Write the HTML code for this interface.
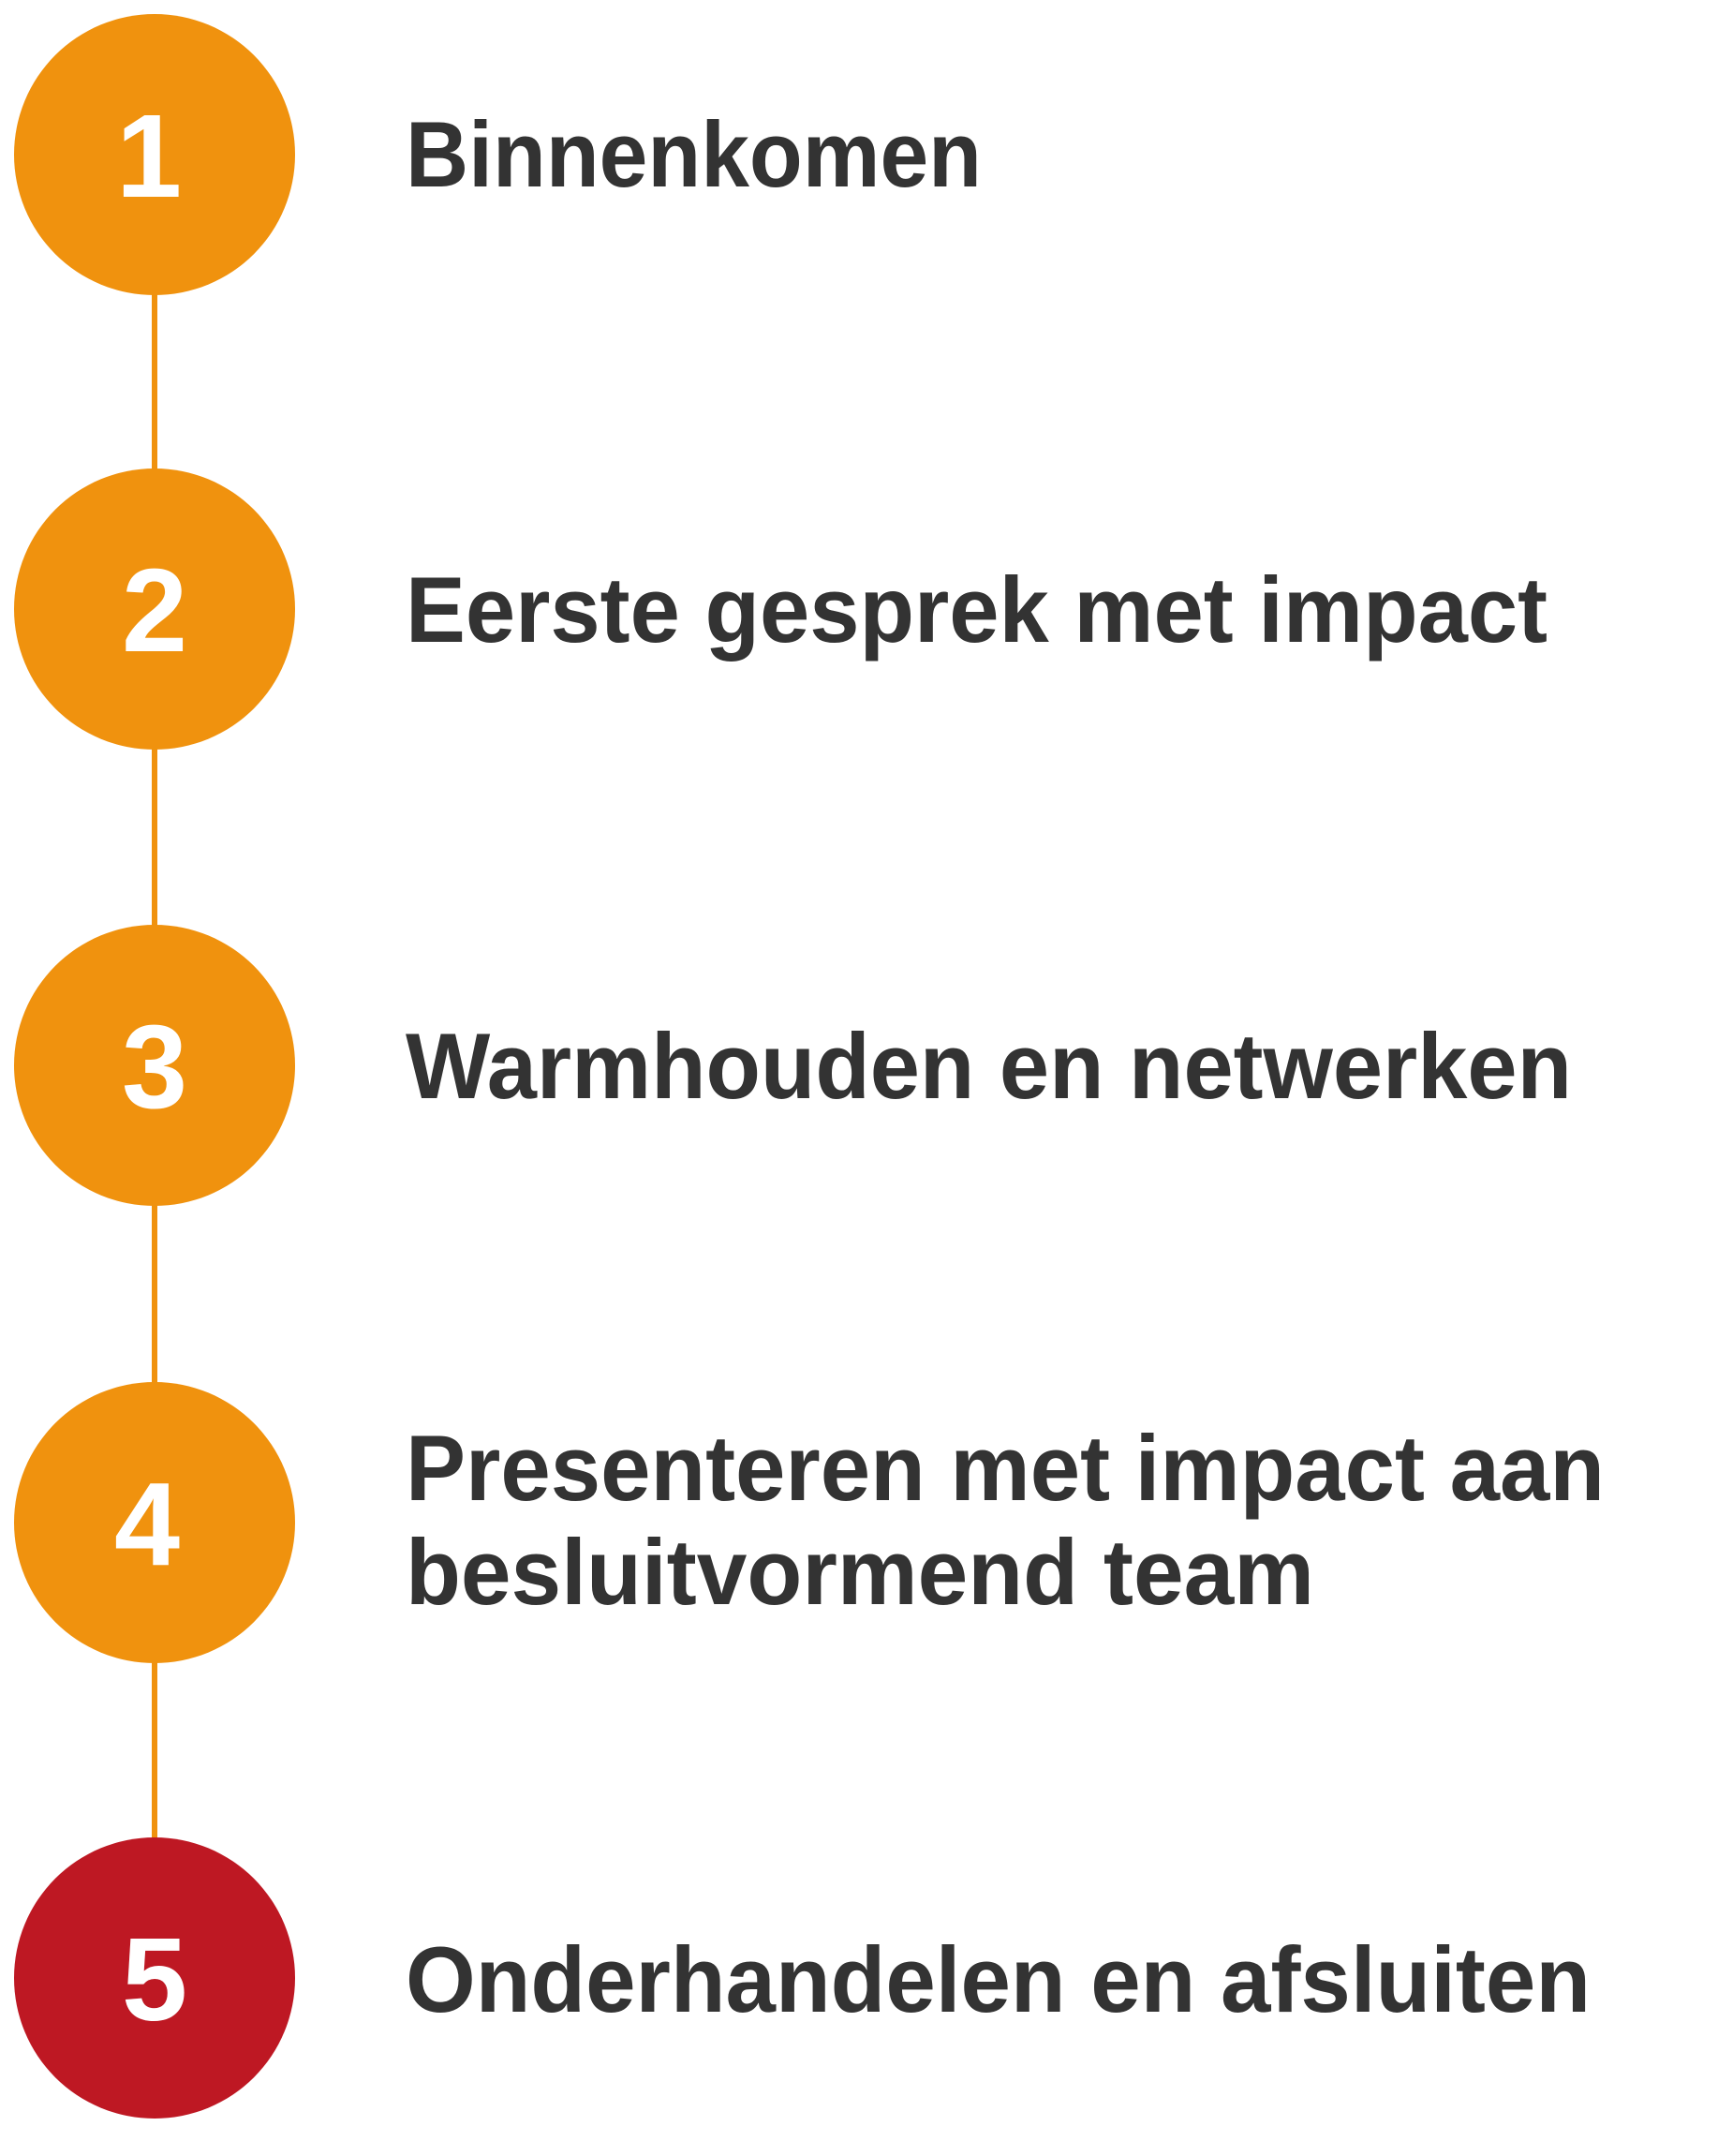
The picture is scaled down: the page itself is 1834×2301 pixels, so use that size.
<!DOCTYPE html>
<html><head><meta charset="utf-8"><style>html,body{margin:0;padding:0;background:#fff}</style></head>
<body>
<svg width="1834" height="2296" viewBox="0 0 1834 2296" xmlns="http://www.w3.org/2000/svg">
<line x1="165" y1="165" x2="165" y2="2111" stroke="#F0920E" stroke-width="6"/>
<g fill="#F0920E">
<circle cx="165" cy="165" r="150"/>
<circle cx="165" cy="650" r="150"/>
<circle cx="165" cy="1137" r="150"/>
<circle cx="165" cy="1625" r="150"/>
</g>
<circle cx="165" cy="2111" r="150" fill="#BE1823"/>
<g font-family="Liberation Sans, sans-serif" font-weight="bold" font-size="126" fill="#fff" text-anchor="middle">
<text x="159" y="210">1</text>
<text x="165" y="695">2</text>
<text x="165" y="1182">3</text>
<text x="157" y="1670">4</text>
<text x="165" y="2156">5</text>
</g>
<g font-family="Liberation Sans, sans-serif" font-weight="bold" font-size="99" fill="#333">
<text x="433" y="199" textLength="615" lengthAdjust="spacingAndGlyphs">Binnenkomen</text>
<text x="433" y="685" textLength="1219" lengthAdjust="spacingAndGlyphs">Eerste gesprek met impact</text>
<text x="433" y="1172" textLength="1245" lengthAdjust="spacingAndGlyphs">Warmhouden en netwerken</text>
<text x="433" y="1601" textLength="1280" lengthAdjust="spacingAndGlyphs">Presenteren met impact aan</text>
<text x="433" y="1712" textLength="970" lengthAdjust="spacingAndGlyphs">besluitvormend team</text>
<text x="433" y="2147" textLength="1265" lengthAdjust="spacingAndGlyphs">Onderhandelen en afsluiten</text>
</g>
</svg>
</body></html>
